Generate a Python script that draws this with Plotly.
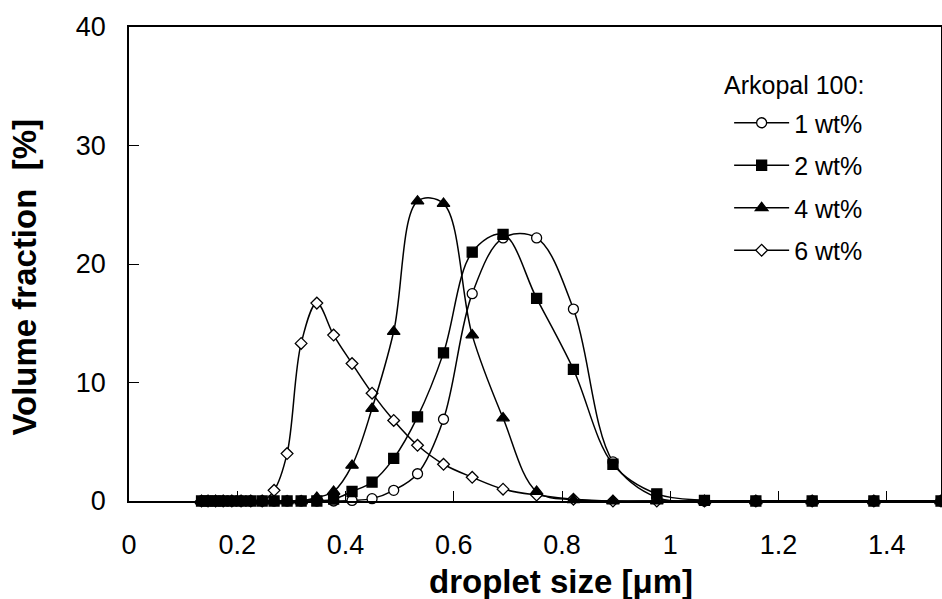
import plotly.graph_objects as go

# droplet size grid [µm]
size_um = [0.134, 0.146, 0.160, 0.174, 0.190, 0.207, 0.225, 0.246, 0.268, 0.292,
           0.318, 0.347, 0.378, 0.412, 0.449, 0.489, 0.533, 0.581, 0.634, 0.691,
           0.753, 0.821, 0.894, 0.975, 1.063, 1.158, 1.262, 1.376, 1.500]

# volume fraction [%]
wt1 = [0, 0, 0, 0, 0, 0, 0, 0, 0, 0,
       0, 0, 0, 0.05, 0.2, 0.9, 2.3, 6.9, 17.5, 22.2,
       22.2, 16.2, 3.3, 0.3, 0, 0, 0, 0, 0]
wt2 = [0, 0, 0, 0, 0, 0, 0, 0, 0, 0,
       0, 0, 0.15, 0.8, 1.6, 3.6, 7.1, 12.5, 21.0, 22.5,
       17.1, 11.1, 3.1, 0.6, 0.05, 0, 0, 0, 0]
wt4 = [0, 0, 0, 0, 0, 0, 0, 0, 0, 0,
       0, 0.3, 0.8, 3.0, 7.8, 14.3, 25.3, 25.1, 14.0, 7.0,
       0.8, 0.1, 0, 0, 0, 0, 0, 0, 0]
wt6 = [0, 0, 0, 0, 0, 0, 0, 0, 0.9, 4.0,
       13.3, 16.7, 14.0, 11.6, 9.1, 6.8, 4.7, 3.1, 2.0, 1.0,
       0.5, 0.15, 0, 0, 0, 0, 0, 0, 0]

series_names = ["1 wt%", "2 wt%", "4 wt%", "6 wt%"]
legend_title = "Arkopal 100:"
x_title = "<b>droplet size [μm]</b>"
y_title = "<b>Volume fraction\u00a0\u00a0[%]</b>"
x_tickvals = [0, 0.2, 0.4, 0.6, 0.8, 1.0, 1.2, 1.4]
x_ticktext = ["0", "0.2", "0.4", "0.6", "0.8", "1", "1.2", "1.4"]
y_tickvals = [0, 10, 20, 30, 40]

FONT = "Liberation Sans, Arial, sans-serif"

fig = go.Figure()

def add(y, name, symbol, fill, size, rank):
    fig.add_trace(go.Scatter(
        x=size_um, y=y, name=name, mode="lines+markers",
        line=dict(color="black", width=1.5, shape="spline", smoothing=1),
        marker=dict(symbol=symbol, size=size, color=fill,
                    line=dict(color="black", width=1.3)),
        legendgroup=name, legendrank=rank, cliponaxis=False,
    ))

# drawing order (bottom -> top)
add(wt6, series_names[3], "diamond", "white", 9, 4)
add(wt1, series_names[0], "circle", "white", 10, 1)
add(wt4, series_names[2], "triangle-up", "black", 11, 3)
add(wt2, series_names[1], "square", "black", 10, 2)

W, H = 942, 599
AX_L, AX_R, AX_T, AX_B = 128.5, 941, 27, 501   # plot area in page px
L = AX_L
R = W - AX_R
T = AX_T
B = H - AX_B
pw = AX_R - AX_L
ph = AX_B - AX_T

def px_x(p):
    return (p - AX_L) / pw

def px_y(p):
    return (AX_B - p) / ph

fig.add_annotation(text=legend_title, xref="paper", yref="paper",
                   x=px_x(722), y=px_y(85), xanchor="left", yanchor="middle",
                   showarrow=False, font=dict(family=FONT, size=25, color="black"))
fig.add_annotation(text=x_title, xref="paper", yref="paper",
                   x=px_x(561), y=px_y(581), xanchor="center", yanchor="middle",
                   showarrow=False, font=dict(family=FONT, size=33, color="black"))
fig.add_annotation(text=y_title, xref="paper", yref="paper", textangle=-90,
                   x=px_x(23), y=px_y(277), xanchor="center", yanchor="middle",
                   showarrow=False, font=dict(family=FONT, size=33, color="black"))

fig.update_layout(
    width=W, height=H,
    margin=dict(l=L, r=R, t=T, b=B, autoexpand=False),
    paper_bgcolor="white", plot_bgcolor="white",
    font=dict(family=FONT, color="black"),
    showlegend=True,
    legend=dict(x=px_x(729), y=px_y(100), xanchor="left", yanchor="top",
                font=dict(family=FONT, size=25, color="black"),
                bgcolor="rgba(0,0,0,0)", tracegroupgap=7,
                itemwidth=55, traceorder="grouped"),
    xaxis=dict(range=[0, 1.5], tickvals=x_tickvals, ticktext=x_ticktext,
               ticks="inside", ticklen=10, tickwidth=1, tickcolor="black",
               showline=True, linecolor="black", linewidth=1.5, mirror=True,
               showgrid=False, zeroline=False, automargin=False,
               tickfont=dict(family=FONT, size=27, color="black"),
               ticklabelstandoff=19),
    yaxis=dict(range=[0, 40], tickvals=y_tickvals,
               ticks="inside", ticklen=10, tickwidth=1, tickcolor="black",
               showline=True, linecolor="black", linewidth=1.5, mirror=True,
               showgrid=False, zeroline=False, automargin=False,
               tickfont=dict(family=FONT, size=27, color="black"),
               ticklabelstandoff=16),
)

fig.write_html(
    "out.html",
    config={"displayModeBar": False},
    post_script="document.body.style.margin='0';document.body.style.overflow='hidden';",
)
